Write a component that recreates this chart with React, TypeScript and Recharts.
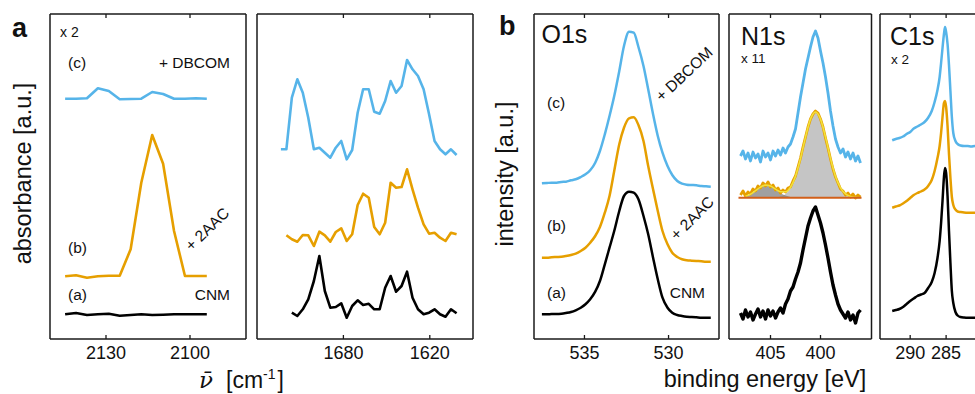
import React from 'react'
import { ComposedChart, Line, Area, XAxis, YAxis } from 'recharts'

// ---- IR, C≡N region (panel a, left) ----
const irLeftWn = [2144.6, 2140.7, 2136.8, 2132.9, 2129.0, 2125.1, 2121.2, 2117.4, 2113.5, 2109.6, 2105.7, 2101.8, 2097.9, 2094.0]
const irLeftC = [240.3, 240.3, 240.7, 250.7, 248.0, 239.7, 240.0, 240.3, 247.0, 245.0, 240.3, 240.3, 240.7, 240.3]
const irLeftB = [62.7, 63.7, 61.3, 62.7, 63.3, 63.3, 89.7, 156.3, 204.0, 175.3, 108.0, 63.0, 63.0, 63.0]
const irLeftA = [24.7, 26.0, 24.0, 24.7, 25.3, 23.3, 24.0, 24.7, 24.0, 24.3, 24.7, 24.7, 24.7, 24.7]

// ---- IR, amide region (panel a, right) ----
const irRightWn = [1723.4, 1719.6, 1715.8, 1712.0, 1708.2, 1704.4, 1700.5, 1696.7, 1692.9, 1689.1, 1685.3, 1681.5, 1677.7, 1673.9, 1670.1, 1666.3, 1662.4, 1658.6, 1654.8, 1651.0, 1647.2, 1643.4, 1639.6, 1635.8, 1632.0, 1628.2, 1624.3, 1620.5, 1616.7, 1612.9, 1609.1, 1605.3, 1601.4]
const irRightC = [189.7, 189.7, 241.3, 259.7, 246.3, 221.3, 189.7, 191.3, 186.3, 181.3, 191.3, 198.0, 179.7, 189.0, 226.3, 249.7, 249.7, 227.3, 225.3, 238.0, 258.0, 246.3, 253.0, 279.0, 269.7, 263.0, 249.7, 224.7, 198.0, 189.7, 184.7, 189.7, 184.0]
// starts at the 2nd wavenumber
const irRightB = [103.7, 99.7, 97.3, 104.0, 103.7, 93.0, 107.3, 103.7, 97.3, 107.0, 110.7, 98.0, 104.7, 134.0, 145.3, 141.3, 112.0, 104.7, 116.3, 156.3, 151.3, 152.0, 169.7, 149.7, 131.3, 114.7, 105.3, 106.3, 101.3, 98.0, 106.3, 104.7]
// starts at the 3rd wavenumber
const irRightA = [26.3, 23.0, 29.7, 39.7, 58.0, 83.0, 48.0, 31.3, 32.0, 35.7, 21.3, 33.0, 38.7, 34.0, 35.2, 29.7, 29.7, 51.3, 63.0, 47.3, 53.0, 67.3, 41.3, 29.7, 24.7, 26.3, 29.7, 24.7, 22.3, 29.7, 25.7]

// ---- XPS O1s ----
const o1sBE = [537.53, 537.23, 536.95, 536.65, 536.37, 536.10, 535.80, 535.52, 535.22, 534.94, 534.66, 534.36, 534.08, 533.79, 533.51, 533.23, 532.93, 532.65, 532.35, 532.07, 531.79, 531.49, 531.21, 530.92, 530.64, 530.36, 530.06, 529.78, 529.48, 529.20, 528.92, 528.62, 528.35, 528.05, 527.77, 527.49]
const o1sC = [155.7, 156.0, 156.3, 156.3, 157.0, 157.3, 158.7, 159.7, 162.0, 164.7, 168.7, 176.3, 188.0, 204.7, 223.0, 243.0, 268.0, 293.0, 307.3, 306.3, 292.0, 273.0, 249.7, 224.7, 203.0, 186.3, 173.0, 164.0, 158.0, 155.3, 154.3, 154.0, 153.7, 153.0, 152.7, 152.3]
const o1sB = [81.3, 81.3, 81.7, 82.0, 82.3, 83.0, 84.0, 85.3, 88.0, 91.3, 96.3, 103.0, 112.0, 126.3, 143.0, 168.0, 194.7, 211.3, 220.7, 221.7, 214.0, 198.0, 173.0, 149.7, 128.0, 108.0, 94.7, 86.3, 82.0, 79.7, 78.7, 78.3, 78.0, 77.7, 77.3, 77.3]
const o1sA = [24.7, 24.7, 25.0, 25.0, 25.3, 26.0, 27.0, 28.7, 31.3, 34.7, 39.7, 47.3, 58.0, 74.7, 91.3, 108.0, 128.0, 143.0, 147.3, 146.3, 139.7, 123.0, 104.7, 81.3, 59.7, 41.3, 31.3, 26.3, 24.0, 23.0, 22.3, 22.0, 21.7, 21.3, 21.3, 21.3]

// ---- XPS N1s (x11) ----
const n1sBE = [408.0, 407.75, 407.5, 407.25, 407.0, 406.75, 406.5, 406.25, 406.0, 405.75, 405.5, 405.25, 405.0, 404.75, 404.5, 404.25, 404.0, 403.75, 403.5, 403.25, 403.0, 402.75, 402.5, 402.25, 402.0, 401.75, 401.5, 401.25, 401.0, 400.75, 400.5, 400.25, 400.0, 399.75, 399.5, 399.25, 399.0, 398.75, 398.5, 398.25, 398.0, 397.75, 397.5, 397.25, 397.0, 396.75, 396.5, 396.25, 396.0]
const n1sC = [183, 188, 180, 186, 178, 187, 181, 185, 177, 188, 182, 186, 179, 188, 183, 189, 184, 191, 186, 192, 195, 202, 210, 226, 242, 256, 270, 281, 292, 302, 308, 301, 288, 276, 262, 246, 228, 213, 200, 192, 186, 190, 182, 187, 180, 186, 178, 183, 176]
const n1sB = [144, 148, 143, 147, 145, 150, 148, 153, 151, 156, 153, 157, 152, 154, 149, 151, 146, 149, 147, 151, 152, 158, 163, 172, 181, 192, 202, 212, 220, 225, 228, 226, 220, 212, 201, 191, 180, 170, 162, 156, 150, 148, 144, 146, 142, 145, 141, 144, 142]
const n1sA = [26, 20, 29, 22, 27, 19, 25, 30, 22, 28, 20, 29, 23, 28, 21, 27, 31, 26, 35, 40, 48, 52, 60, 67, 76, 89, 101, 113, 121, 128, 132, 124, 116, 106, 94, 81, 67, 54, 44, 35, 29, 25, 21, 27, 19, 24, 16, 26, 29]

// N1s peak fit of trace (b)
const fitBE = [407.5, 407.0, 406.5, 406.0, 405.5, 405.0, 404.5, 404.0, 403.5, 403.0, 402.5, 402.0, 401.5, 401.0, 400.5, 400.0, 399.5, 399.0, 398.5, 398.0, 397.5, 397.0, 396.5, 396.0]
const fitSmall = [142.7, 144.8, 148.3, 151.9, 153.9, 153.0, 149.8, 146.1, 143.4, 142.0, 141.5, 141.3, 141.3, 141.3, 141.3, 141.3, 141.3, 141.3, 141.3, 141.3, 141.3, 141.3, 141.3, 141.3]
const fitMain = [141.3, 141.3, 141.3, 141.3, 141.3, 141.3, 141.4, 142.5, 145.1, 151.1, 162.6, 180.5, 201.9, 219.9, 227.0, 219.9, 201.9, 180.5, 162.6, 151.1, 145.1, 142.5, 141.6, 141.3]
const fitEnvelope = [142.7, 144.8, 148.3, 151.9, 153.9, 153.0, 149.9, 147.3, 147.2, 151.8, 162.8, 180.5, 201.9, 219.9, 227.0, 219.9, 201.9, 180.5, 162.6, 151.1, 145.1, 142.5, 141.6, 141.3]
const fitBackground = 141.3
const fitBgBE = [408.2, 395.9]

// ---- XPS C1s (x2) ----
const c1sBE = [292.5, 292.0, 291.5, 291.0, 290.5, 290.0, 289.5, 289.0, 288.5, 288.0, 287.5, 287.0, 286.6, 286.2, 285.9, 285.7, 285.5, 285.3, 285.15, 285.0, 284.8, 284.6, 284.4, 284.2, 284.0, 283.7, 283.4, 283.0, 282.5, 282.0, 281.5, 281.0, 280.5]
const c1sC = [198.7, 200, 201, 202.5, 205, 207, 210.5, 212.5, 214.5, 217, 221.3, 228, 237, 249, 262, 276, 291, 305, 312, 307, 295, 274, 248, 222, 206, 198, 195, 193.5, 193, 193, 192.5, 193, 192.5]
const c1sB = [131.3, 132.5, 133.5, 135.5, 138, 141, 144, 146, 147.5, 149.5, 153, 159, 168, 181, 193, 206, 222, 236, 238, 232, 213, 185, 161, 142, 134, 129.5, 127.5, 127, 126.5, 126.3, 126.3, 126.3, 126]
const c1sA = [28, 29, 30, 32, 35, 38, 40.5, 43, 44.5, 46, 51, 57, 66, 81, 98, 116, 138, 162, 171, 166, 143, 108, 76, 48, 36, 27, 23.5, 22, 21.5, 21.3, 21.3, 21.3, 21]

const irLeftTicks = [2130, 2100]
const irRightTicks = [1680, 1620]
const o1sTicks = [535, 530]
const n1sTicks = [405, 400]
const c1sTicks = [290, 285]

const BLUE = '#56B4E9'
const ORANGE = '#E69F00'
const BLACK = '#000000'
const FRAME = '#1a1a1a'
const FONT = '"Liberation Sans", Arial, sans-serif'

const PLOT_TOP = 13.5
const PLOT_H = 325
const Y_MAX = 325
const PAD = 3
const EDGE = 1
const AXIS_H = 40

const zip = (xs: number[], ys: number[]) => ys.map((y, i) => ({ x: xs[i], y }))

const BottomTick = (props: any) => {
  const { x, y, payload } = props
  return (
    <g>
      <line x1={x} x2={x} y1={y} y2={y - 4} stroke={FRAME} strokeWidth={1.3} />
      <text x={x} y={y + 20.3} textAnchor="middle" fontSize={18} fontFamily={FONT} fill="#111">
        {payload.value}
      </text>
    </g>
  )
}

const TopTick = (props: any) => {
  const { x, y } = props
  return <line x1={x} x2={x} y1={y} y2={y + 4} stroke={FRAME} strokeWidth={1.3} />
}

interface PanelProps {
  left: number
  width: number
  domain: [number, number]
  ticks: number[]
  children: React.ReactNode
}

function Panel({ left, width, domain, ticks, children }: PanelProps) {
  const axisLine = { stroke: FRAME, strokeWidth: 1.5 }
  return (
    <div style={{ position: 'absolute', left: left - PAD, top: PLOT_TOP - PAD }}>
      <ComposedChart
        width={width + 2 * PAD}
        height={PLOT_H + PAD + AXIS_H}
        margin={{ top: PAD - EDGE, right: PAD - EDGE, bottom: 0, left: PAD - EDGE }}
      >
        <XAxis
          dataKey="x"
          type="number"
          domain={domain}
          reversed
          allowDataOverflow
          ticks={ticks}
          interval={0}
          tickSize={0}
          tickMargin={0}
          tickLine={false}
          tick={BottomTick}
          height={AXIS_H}
          axisLine={axisLine}
        />
        <XAxis
          xAxisId="top"
          orientation="top"
          dataKey="x"
          type="number"
          domain={domain}
          reversed
          allowDataOverflow
          ticks={ticks}
          interval={0}
          tickSize={0}
          tickMargin={0}
          tickLine={false}
          tick={TopTick}
          height={EDGE}
          axisLine={axisLine}
        />
        <YAxis type="number" domain={[0, Y_MAX]} allowDataOverflow width={EDGE} tick={false} tickLine={false} axisLine={axisLine} />
        <YAxis yAxisId="r" orientation="right" type="number" domain={[0, Y_MAX]} width={EDGE} tick={false} tickLine={false} axisLine={axisLine} />
        {children}
      </ComposedChart>
    </div>
  )
}

const trace = (data: { x: number; y: number }[], color: string, width: number, curve: 'linear' | 'monotone', key: string) => (
  <Line
    key={key}
    data={data}
    dataKey="y"
    type={curve}
    stroke={color}
    strokeWidth={width}
    strokeLinejoin="round"
    dot={false}
    activeDot={false}
    isAnimationActive={false}
  />
)

const txt = { fontFamily: FONT, fill: '#111' }

export default function App() {
  return (
    <div style={{ position: 'fixed', left: 0, top: 0, width: 975, height: 394, overflow: 'hidden', background: '#fff' }}>
      <Panel left={50} width={196} domain={[2080, 2150]} ticks={irLeftTicks}>
        {trace(zip(irLeftWn, irLeftC), BLUE, 2.6, 'linear', 'c')}
        {trace(zip(irLeftWn, irLeftB), ORANGE, 2.6, 'linear', 'b')}
        {trace(zip(irLeftWn, irLeftA), BLACK, 2.6, 'linear', 'a')}
      </Panel>

      <Panel left={257} width={216} domain={[1590, 1740]} ticks={irRightTicks}>
        {trace(zip(irRightWn, irRightC), BLUE, 2.6, 'linear', 'c')}
        {trace(zip(irRightWn.slice(1), irRightB), ORANGE, 2.6, 'linear', 'b')}
        {trace(zip(irRightWn.slice(2), irRightA), BLACK, 2.6, 'linear', 'a')}
      </Panel>

      <Panel left={533.5} width={185} domain={[527, 538]} ticks={o1sTicks}>
        {trace(zip(o1sBE, o1sC), BLUE, 2.5, 'monotone', 'c')}
        {trace(zip(o1sBE, o1sB), ORANGE, 2.5, 'monotone', 'b')}
        {trace(zip(o1sBE, o1sA), BLACK, 2.5, 'monotone', 'a')}
      </Panel>

      <Panel left={728.5} width={142.5} domain={[394.9, 409.15]} ticks={n1sTicks}>
        {trace(zip(n1sBE, n1sC), BLUE, 2.8, 'linear', 'c')}
        {trace(zip(n1sBE, n1sB), ORANGE, 2.8, 'linear', 'b')}
        <Area
          key="main"
          data={zip(fitBE, fitMain)}
          dataKey={(d: { y: number }) => [fitBackground, d.y]}
          type="monotone"
          stroke="none"
          fill="#bdbdbd"
          fillOpacity={0.88}
          isAnimationActive={false}
        />
        <Area
          key="small"
          data={zip(fitBE, fitSmall)}
          dataKey={(d: { y: number }) => [fitBackground, d.y]}
          type="monotone"
          stroke="none"
          fill="#777777"
          fillOpacity={0.7}
          isAnimationActive={false}
        />
        {trace(zip(fitBE, fitEnvelope), '#F2E03A', 1.6, 'monotone', 'env')}
        {trace(fitBgBE.map((x) => ({ x, y: fitBackground })), '#D2601A', 2, 'linear', 'bg')}
        {trace(zip(n1sBE, n1sA), BLACK, 3.4, 'linear', 'a')}
      </Panel>

      <Panel left={880} width={143} domain={[274.3, 294.2]} ticks={c1sTicks}>
        {trace(zip(c1sBE, c1sC), BLUE, 2.5, 'monotone', 'c')}
        {trace(zip(c1sBE, c1sB), ORANGE, 2.5, 'monotone', 'b')}
        {trace(zip(c1sBE, c1sA), BLACK, 2.5, 'monotone', 'a')}
      </Panel>

      <svg width={975} height={394} style={{ position: 'absolute', left: 0, top: 0, pointerEvents: 'none' }}>
        <text x={12} y={37} fontSize={27} fontWeight="bold" {...txt}>a</text>
        <text x={499} y={35} fontSize={27} fontWeight="bold" {...txt}>b</text>

        <text transform="translate(30.5 173.5) rotate(-90)" textAnchor="middle" fontSize={23.5} {...txt}>absorbance [a.u.]</text>
        <text transform="translate(513 174) rotate(-90)" textAnchor="middle" fontSize={23.5} {...txt}>intensity [a.u.]</text>

        <text y={388} fontSize={23} {...txt}>
          <tspan x={199} fontFamily='"DejaVu Serif", serif' fontStyle="italic">ν̄</tspan>
          <tspan x={226}>[cm</tspan>
          <tspan dy={-9} fontSize={14}>-1</tspan>
          <tspan dy={9} dx={2}>]</tspan>
        </text>
        <text x={765} y={387} textAnchor="middle" fontSize={23.5} {...txt}>binding energy [eV]</text>

        {/* panel a annotations */}
        <text x={60} y={37} fontSize={14} {...txt}>x 2</text>
        <text x={68} y={67.5} fontSize={15.5} {...txt}>(c)</text>
        <text x={230} y={67.5} textAnchor="end" fontSize={15.5} {...txt}>+ DBCOM</text>
        <text x={68} y={253} fontSize={15.5} {...txt}>(b)</text>
        <text transform="translate(207 229) rotate(-44)" textAnchor="middle" dominantBaseline="central" fontSize={15.5} {...txt}>+ 2AAC</text>
        <text x={68} y={299.5} fontSize={15.5} {...txt}>(a)</text>
        <text x={230} y={300} textAnchor="end" fontSize={15.5} {...txt}>CNM</text>

        {/* O1s */}
        <text x={541.5} y={43} fontSize={25} {...txt}>O1s</text>
        <text x={547} y={107.5} fontSize={15.5} {...txt}>(c)</text>
        <text transform="translate(684 74) rotate(-43)" textAnchor="middle" dominantBaseline="central" fontSize={15.5} {...txt}>+ DBCOM</text>
        <text x={547} y={231} fontSize={15.5} {...txt}>(b)</text>
        <text transform="translate(692 218) rotate(-45)" textAnchor="middle" dominantBaseline="central" fontSize={15.5} {...txt}>+ 2AAC</text>
        <text x={547} y={298} fontSize={15.5} {...txt}>(a)</text>
        <text x={705} y={297.5} textAnchor="end" fontSize={15.5} {...txt}>CNM</text>

        {/* N1s */}
        <text x={741} y={45} fontSize={25} {...txt}>N1s</text>
        <text x={741} y={63} fontSize={13.5} {...txt}>x 11</text>

        {/* C1s */}
        <text x={890} y={45} fontSize={25} {...txt}>C1s</text>
        <text x={891} y={64} fontSize={13.5} {...txt}>x 2</text>
      </svg>
    </div>
  )
}
